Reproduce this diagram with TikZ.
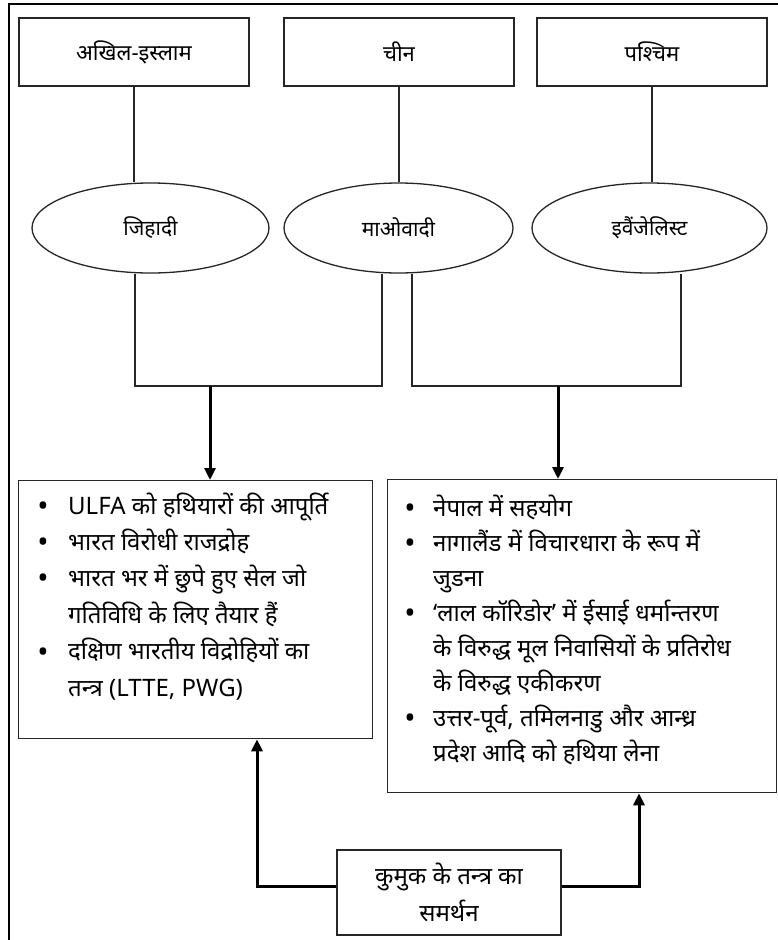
\documentclass[tikz,border=0pt]{standalone}
\usepackage{fontspec}
\setmainfont{Noto Sans}[Script=Devanagari]
\usetikzlibrary{shapes.geometric,arrows.meta}
\begin{document}
\begin{tikzpicture}[x=1pt,y=-1pt,
  topbox/.style={draw=black!85, line width=1.3pt, minimum width=230pt, minimum height=68pt, inner sep=0pt, font=\fontsize{22}{26}\selectfont},
  oval/.style={ellipse, draw=black!85, line width=1.3pt, minimum width=237pt, minimum height=90pt, inner sep=0pt, font=\fontsize{21}{24}\selectfont},
  listbox/.style={draw=black!85, line width=1.3pt, inner sep=0pt, anchor=north west},
  conn/.style={draw=black!85, line width=1.3pt},
  thickarrow/.style={line width=3pt, -{Triangle[width=11pt,length=12pt]}},
  bodytext/.style={anchor=base west, inner sep=0pt, font=\fontsize{24}{28}\selectfont},
  bul/.style={anchor=base, inner sep=0pt, font=\fontsize{30}{34}\selectfont}
]
\useasboundingbox (0,0) rectangle (778,940);
\fill[white] (0,0) rectangle (778,940);
% outer frame (cropped)
\draw[line width=2pt] (9,941) -- (9,4) -- (779,4);

% top boxes
\node[topbox] (b1) at (134,52) {अखिल-इस्लाम};
\node[topbox] (b2) at (399,52) {चीन};
\node[topbox] (b3) at (652,52) {पश्चिम};

% ellipses
\node[oval] (e1) at (150.5,228) {जिहादी};
\node[oval, minimum width=229pt] (e2) at (398.5,228) {माओवादी};
\node[oval, minimum width=235pt] (e3) at (649.5,228) {इवैंजेलिस्ट};

\draw[conn] (b1.south) -- (b1.south |- e1.north);
\draw[conn] (b2.south) -- (b2.south |- e2.north);
\draw[conn] (b3.south) -- (b3.south |- e3.north);

% lists
\node[listbox, minimum width=354pt, minimum height=258pt] (lb) at (18,480) {};
\node[listbox, minimum width=389pt, minimum height=313pt] (rb) at (387,479) {};

% bottom box
\node[draw=black!85, line width=1.3pt, minimum width=224pt, minimum height=85pt, inner sep=0pt, align=center, font=\fontsize{24}{37}\selectfont] (k) at (449,892.5) {कुमुक के तन्त्र का\\समर्थन};

% junctions from ellipses
\coordinate (j1) at (135,386);
\coordinate (j2) at (382,386);
\coordinate (j3) at (412,386);
\coordinate (j4) at (681,386);
\draw[conn] (e1.south -| j1) -- (j1) -- (j2) -- (e2.south -| j2);
\draw[conn] (e2.south -| j3) -- (j3) -- (j4) -- (e3.south -| j4);

\coordinate (a1) at (210,386);
\coordinate (a2) at (558,386);
\draw[thickarrow] (a1) -- (a1 |- lb.north);
\draw[thickarrow] (a2) -- (a2 |- rb.north);

% support arrows
\coordinate (kl) at (257,886);
\coordinate (kr) at (639,886);
\draw[thickarrow] (kl -| k.west) -- (kl) -- (kl |- lb.south);
\draw[thickarrow] (kr -| k.east) -- (kr) -- (kr |- rb.south);

% left list text
\foreach \y in {516,552.4,588.8,662}
  \node[bul] at (43,\y) {•};
\node[bodytext] (l1) at (68,514) {ULFA को हथियारों की आपूर्ति};
\node[bodytext] (l2) at (68,550.4) {भारत विरोधी राजद्रोह};
\node[bodytext] (l3) at (68,586.8) {भारत भर में छुपे हुए सेल जो};
\node[bodytext] (l4) at (68,623.2) {गतिविधि के लिए तैयार हैं};
\node[bodytext] (l5) at (68,659.6) {दक्षिण भारतीय विद्रोहियों का};
\node[bodytext] (l6) at (68,696) {तन्त्र (LTTE, PWG)};

% right list text
\foreach \y in {518,553.1,623.3,728.6}
  \node[bul] at (410,\y) {•};
\node[bodytext] (r1) at (433,516) {नेपाल में सहयोग};
\node[bodytext] (r2) at (433,551.1) {नागालैंड में विचारधारा के रूप में};
\node[bodytext] (r3) at (433,586.2) {जुडना};
\node[bodytext] (r4) at (433,621.3) {‘लाल कॉरिडोर’ में ईसाई धर्मान्तरण};
\node[bodytext] (r5) at (433,656.4) {के विरुद्ध मूल निवासियों के प्रतिरोध};
\node[bodytext] (r6) at (433,691.5) {के विरुद्ध एकीकरण};
\node[bodytext] (r7) at (433,726.6) {उत्तर-पूर्व, तमिलनाडु और आन्ध्र};
\node[bodytext] (r8) at (433,761.7) {प्रदेश आदि को हथिया लेना};
\end{tikzpicture}
\end{document}
